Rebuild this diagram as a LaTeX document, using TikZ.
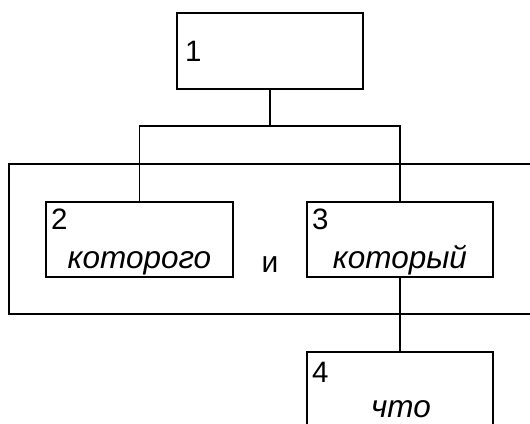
\documentclass[tikz,border=0pt]{standalone}
\usepackage{fontspec}
\setmainfont{Liberation Sans}
\begin{document}
\begin{tikzpicture}[x=1pt,y=-1pt,
  box/.style={draw=black,line width=1.2pt,rectangle,inner sep=0pt},
  conn/.style={draw=black,line width=1.2pt},
  num/.style={inner sep=0pt,anchor=base west,font=\fontsize{29.5}{31}\selectfont},
  word/.style={inner sep=0pt,anchor=base,font=\fontsize{31.5}{33}\selectfont\itshape}]
\useasboundingbox (0,0) rectangle (530,423);
\clip (0,0) rectangle (530,423);
\node[box,minimum width=186pt,minimum height=76pt] (b1) at (270,51) {};
\node[box,minimum width=536pt,minimum height=150pt] (outer) at (277,239) {};
\node[box,minimum width=187pt,minimum height=75pt] (b2) at (139.5,239.5) {};
\node[box,minimum width=186pt,minimum height=75pt] (b3) at (400,239.5) {};
\node[box,minimum width=186pt,minimum height=100pt] (b4) at (400,402) {};
\node[num] (t1) at (185,61) {1};
\node[num] (t2) at (51,229) {2};
\node[word] (w2) at (139.5,268) {которого};
\node[num] (t3) at (312,229) {3};
\node[word] (w3) at (400,268) {который};
\node[num] (t4) at (312,382) {4};
\node[word] (w4) at (401,417) {что};
\node[inner sep=0pt,anchor=base,font=\fontsize{30}{32}\selectfont] (and) at (270,272) {и};
\coordinate (j) at (270,126);
\draw[conn] (b1.south) -- (j);
\draw[conn] (j) -| (b2.north);
\draw[conn] (j) -| (b3.north);
\draw[conn] (b3.south) -- (b4.north);
\end{tikzpicture}
\end{document}
